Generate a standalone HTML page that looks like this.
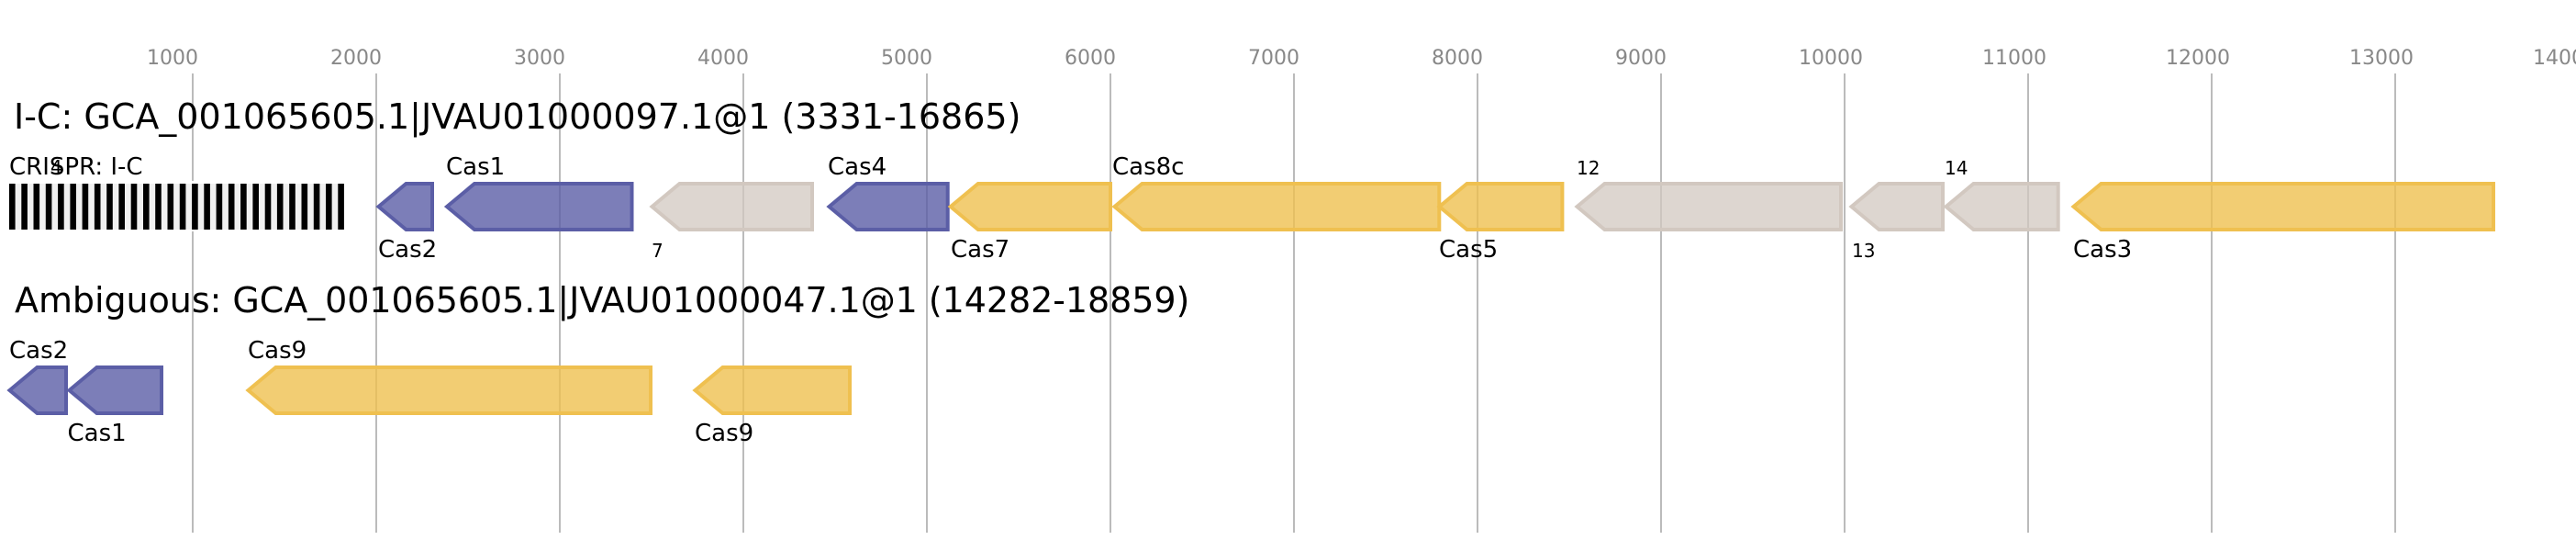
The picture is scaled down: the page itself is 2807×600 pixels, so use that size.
<!DOCTYPE html>
<html>
<head>
<meta charset="utf-8">
<style>
html,body{margin:0;padding:0;background:#fff;width:2807px;height:600px;overflow:hidden}
svg{display:block}
text{font-family:"DejaVu Sans",sans-serif;fill:#000}
.t{font-size:22px;fill:#888}
.h{font-size:38px}
.l{font-size:26px}
.s{font-size:20px}
.b{fill:rgba(91,94,166,.8);stroke:#5b5ea6;stroke-width:4}
.y{fill:rgba(239,192,80,.8);stroke:#efc050;stroke-width:4}
.g{fill:rgba(210,200,192,.75);stroke:#d2c8c0;stroke-width:4}
</style>
</head>
<body>
<svg xmlns="http://www.w3.org/2000/svg" width="2807" height="600" viewBox="0 0 2807 600">
<g stroke="#bbb" stroke-width="2">
<line x1="210" y1="80" x2="210" y2="580"/><line x1="410" y1="80" x2="410" y2="580"/><line x1="610" y1="80" x2="610" y2="580"/><line x1="810" y1="80" x2="810" y2="580"/><line x1="1010" y1="80" x2="1010" y2="580"/><line x1="1210" y1="80" x2="1210" y2="580"/><line x1="1410" y1="80" x2="1410" y2="580"/><line x1="1610" y1="80" x2="1610" y2="580"/><line x1="1810" y1="80" x2="1810" y2="580"/><line x1="2010" y1="80" x2="2010" y2="580"/><line x1="2210" y1="80" x2="2210" y2="580"/><line x1="2410" y1="80" x2="2410" y2="580"/><line x1="2610" y1="80" x2="2610" y2="580"/>
</g>
<g class="tk">
<text class="t" x="160" y="70">1000</text><text class="t" x="360" y="70">2000</text><text class="t" x="560" y="70">3000</text><text class="t" x="760" y="70">4000</text><text class="t" x="960" y="70">5000</text><text class="t" x="1160" y="70">6000</text><text class="t" x="1360" y="70">7000</text><text class="t" x="1560" y="70">8000</text><text class="t" x="1760" y="70">9000</text><text class="t" x="1960" y="70">10000</text><text class="t" x="2160" y="70">11000</text><text class="t" x="2360" y="70">12000</text><text class="t" x="2560" y="70">13000</text><text class="t" x="2760" y="70">14000</text>
</g>
<text class="h" x="15" y="140">I-C: GCA_001065605.1|JVAU01000097.1@1 (3331-16865)</text>
<text class="h" x="16" y="340" letter-spacing="-0.05">Ambiguous: GCA_001065605.1|JVAU01000047.1@1 (14282-18859)</text>

<rect x="10" y="197" width="365" height="55" fill="#fff"/>
<rect x="10" y="200" width="365" height="50" fill="#f0f0f0"/>
<g fill="#000">
<rect x="10" y="200" width="6.6" height="50"/><rect x="23.3" y="200" width="6.6" height="50"/><rect x="36.5" y="200" width="6.6" height="50"/><rect x="49.8" y="200" width="6.6" height="50"/><rect x="63.1" y="200" width="6.6" height="50"/><rect x="76.4" y="200" width="6.6" height="50"/><rect x="89.6" y="200" width="6.6" height="50"/><rect x="102.9" y="200" width="6.6" height="50"/><rect x="116.2" y="200" width="6.6" height="50"/><rect x="129.4" y="200" width="6.6" height="50"/><rect x="142.7" y="200" width="6.6" height="50"/><rect x="156" y="200" width="6.6" height="50"/><rect x="169.2" y="200" width="6.6" height="50"/><rect x="182.5" y="200" width="6.6" height="50"/><rect x="195.8" y="200" width="6.6" height="50"/><rect x="209.1" y="200" width="6.6" height="50"/><rect x="222.3" y="200" width="6.6" height="50"/><rect x="235.6" y="200" width="6.6" height="50"/><rect x="248.9" y="200" width="6.6" height="50"/><rect x="262.1" y="200" width="6.6" height="50"/><rect x="275.4" y="200" width="6.6" height="50"/><rect x="288.7" y="200" width="6.6" height="50"/><rect x="301.9" y="200" width="6.6" height="50"/><rect x="315.2" y="200" width="6.6" height="50"/><rect x="328.5" y="200" width="6.6" height="50"/><rect x="341.8" y="200" width="6.6" height="50"/><rect x="355" y="200" width="6.6" height="50"/><rect x="368.3" y="200" width="6.6" height="50"/>
</g>
<text class="s" x="55" y="189">4</text>
<text class="l" x="10" y="190">CRISPR: I-C</text>

<polygon class="b" points="412.5,225 442.5,200 471,200 471,250 442.5,250"/>
<polygon class="b" points="487,225 517,200 688.5,200 688.5,250 517,250"/>
<polygon class="g" points="710.5,225 740.5,200 885,200 885,250 740.5,250"/>
<polygon class="b" points="903.5,225 933.5,200 1032.7,200 1032.7,250 933.5,250"/>
<polygon class="y" points="1035.8,225 1065.8,200 1210,200 1210,250 1065.8,250"/>
<polygon class="y" points="1214.5,225 1244.5,200 1568.3,200 1568.3,250 1244.5,250"/>
<polygon class="y" points="1568.5,225 1598.5,200 1702.4,200 1702.4,250 1598.5,250"/>
<polygon class="g" points="1718.5,225 1748.5,200 2006,200 2006,250 1748.5,250"/>
<polygon class="g" points="2017.5,225 2047.5,200 2117,200 2117,250 2047.5,250"/>
<polygon class="g" points="2120.5,225 2150.5,200 2242.7,200 2242.7,250 2150.5,250"/>
<polygon class="y" points="2259.5,225 2289.5,200 2717,200 2717,250 2289.5,250"/>

<polygon class="b" points="10.5,425 40.5,400 72,400 72,450 40.5,450"/>
<polygon class="b" points="75.5,425 105.5,400 176,400 176,450 105.5,450"/>
<polygon class="y" points="270.5,425 300.5,400 709,400 709,450 300.5,450"/>
<polygon class="y" points="757.5,425 787.5,400 926,400 926,450 787.5,450"/>

<text class="l" x="412" y="280">Cas2</text>
<text class="l" x="486" y="190">Cas1</text>
<text class="s" x="710" y="280">7</text>
<text class="l" x="902" y="190">Cas4</text>
<text class="l" x="1036" y="280">Cas7</text>
<text class="l" x="1212" y="190">Cas8c</text>
<text class="l" x="1568" y="280">Cas5</text>
<text class="s" x="1718" y="190">12</text>
<text class="s" x="2018" y="280">13</text>
<text class="s" x="2119" y="190">14</text>
<text class="l" x="2259" y="280">Cas3</text>

<text class="l" x="10" y="390">Cas2</text>
<text class="l" x="73.5" y="480">Cas1</text>
<text class="l" x="270" y="390">Cas9</text>
<text class="l" x="757" y="480">Cas9</text>
</svg>
</body>
</html>
